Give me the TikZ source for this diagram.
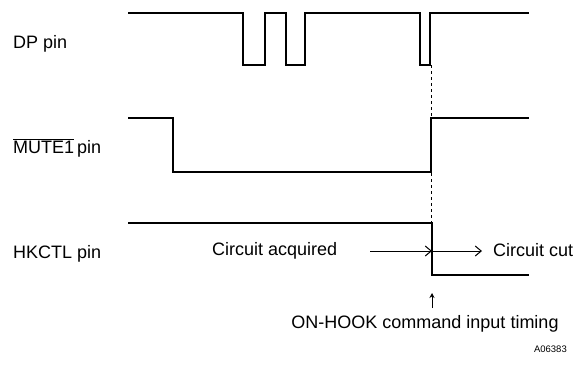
\documentclass[tikz,border=0pt]{standalone}
\usepackage{fontspec}
\setmainfont{Liberation Sans}
\usetikzlibrary{arrows.meta}

\begin{document}
\begin{tikzpicture}[x=1pt, y=-1pt,
    wave/.style={line width=1.5pt, line join=miter},
    pinlabel/.style={anchor=base west, inner sep=0pt, font=\fontsize{18}{20}\selectfont},
    note/.style={anchor=base west, inner sep=0pt, font=\fontsize{18}{20}\selectfont},
    flow/.style={line width=1pt, -{Straight Barb[length=6pt, width=10pt]}}]
  \useasboundingbox (0,0) rectangle (576,370);
  % Noms des broches
  \node[pinlabel] (dp) at (13,48) {DP pin};
  \node[pinlabel] (mute) at (13,153) {$\overline{\mbox{MUTE1}}$\,pin};
  \node[pinlabel] (hk) at (13,258) {HKCTL pin};
  % Signal DP (impulsions de numerotation)
  \draw[wave] (128,13) -- (243,13) -- (243,65) -- (265,65) -- (265,13)
    -- (286,13) -- (286,65) -- (305,65) -- (305,13)
    -- (420,13) -- (420,65) -- (430,65) -- (430,13) -- (529,13);
  % Signal MUTE1
  \draw[wave] (128,118) -- (173,118) -- (173,172) -- (431,172) -- (431,118) -- (529,118);
  % Signal HKCTL
  \coordinate (edge) at (432,251);
  \draw[wave] (128,223) -- (432,223) -- (432,275) -- (529,275);
  % Instant de la commande
  \draw[line width=0.9pt, dash pattern=on 3pt off 3pt] (431,65) -- (431,223);
  % Etat de la ligne
  \node[note] (acq) at (212,255) {Circuit acquired};
  \node[note] (cut) at (493,256) {Circuit cut};
  \coordinate (acqend) at (370,251);
  \coordinate (cutend) at (482,251);
  \draw[flow] (acqend) -- (edge);
  \draw[flow] (edge) -- (cutend);
  % Repere temporel
  \node[anchor=base, inner sep=0pt, font=\fontsize{18}{20}\selectfont] (onhook) at (425,328)
    {ON-HOOK command input timing};
  \coordinate (tick) at (432,293);
  \draw[line width=1pt, -{Stealth[length=5pt, width=5pt]}] (432,308) -- (tick);
  \node[anchor=base east, inner sep=0pt, font=\fontsize{9.5}{10}\selectfont] (ref) at (567,352) {A06383};
\end{tikzpicture}
\end{document}
